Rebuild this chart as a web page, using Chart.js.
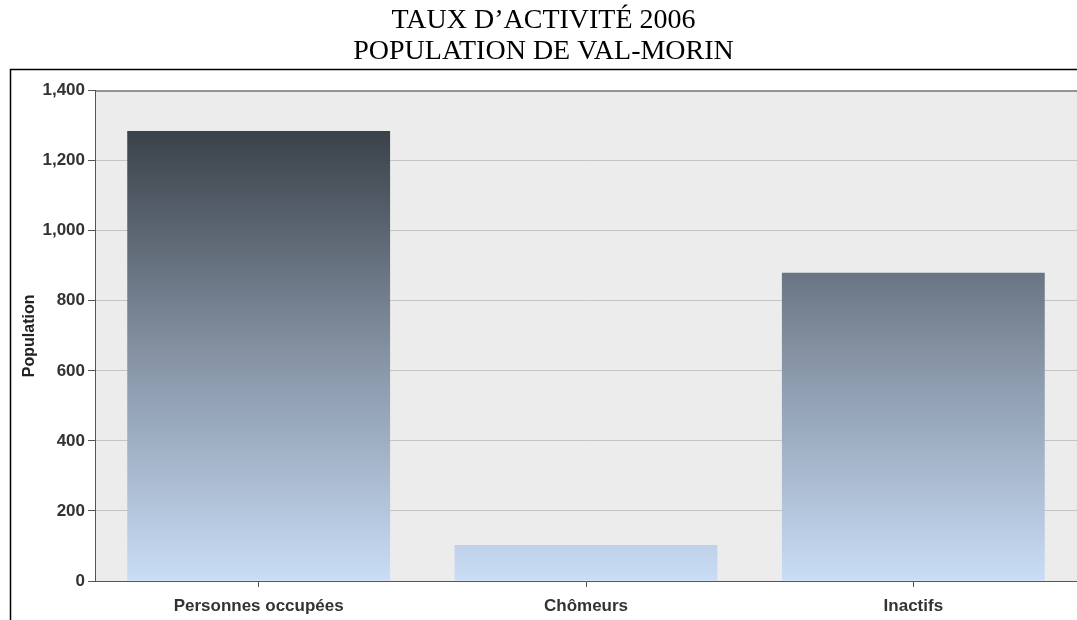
<!DOCTYPE html>
<html>
<head>
<meta charset="utf-8">
<script src="https://cdn.jsdelivr.net/npm/chart.js@4.4.1/dist/chart.umd.min.js"></script>
<style>
  html, body { margin: 0; padding: 0; background: #ffffff; }
  #zone { width: 1077px; height: 620px; }
</style>
</head>
<body>
<div id="zone"><canvas id="graphique"></canvas></div>
<script>
// Données
const categories = ['Personnes occupées', 'Chômeurs', 'Inactifs'];
const population = [1285, 103, 880];
const titreLignes = ['TAUX D\u2019ACTIVITÉ 2006', 'POPULATION DE VAL-MORIN'];
const ticksY = { min: 0, max: 1400, pas: 200 };

// Cadre noir et fond gris de la zone du graphique
const cadrePlugin = {
    id: 'cadre',
    beforeDraw(chart) {
        const ctx = chart.ctx;
        const a = chart.chartArea;
        ctx.save();
        ctx.fillStyle = '#ececec';
        ctx.fillRect(a.left, a.top, a.right - a.left, a.bottom - a.top);
        ctx.strokeStyle = '#000000';
        ctx.lineWidth = 1.5;
        ctx.beginPath();
        ctx.moveTo(10.5, chart.height);
        ctx.lineTo(10.5, 69.5);
        ctx.lineTo(chart.width, 69.5);
        ctx.stroke();
        ctx.restore();
    },
    afterDraw(chart) {
        const ctx = chart.ctx;
        const a = chart.chartArea;
        ctx.save();
        ctx.strokeStyle = '#555555';
        ctx.lineWidth = 1;
        ctx.beginPath();
        ctx.moveTo(a.left, a.top + 0.5);
        ctx.lineTo(a.right, a.top + 0.5);
        ctx.stroke();
        ctx.restore();
    }
};

function degrade(context) {
    const chart = context.chart;
    const a = chart.chartArea;
    if (!a) return '#8795a6';
    const y = chart.scales.y;
    const haut = y.getPixelForValue(Math.max(...population));
    const bas = y.getPixelForValue(0);
    const g = chart.ctx.createLinearGradient(0, haut, 0, bas);
    g.addColorStop(0, '#3a4149');
    g.addColorStop(0.5, '#8593a4');
    g.addColorStop(1, '#c9ddf6');
    return g;
}

const ctx = document.getElementById('graphique').getContext('2d');
const graphique = new Chart(ctx, {
    type: 'bar',
    data: {
        labels: categories,
        datasets: [{
            label: 'Population',
            data: population,
            backgroundColor: degrade,
            borderWidth: 0,
            barPercentage: 0.803,
            categoryPercentage: 1.0
        }]
    },
    options: {
        responsive: true,
        maintainAspectRatio: false,
        animation: false,
        locale: 'en-US',
        layout: { padding: { left: 10, right: 0, top: 0, bottom: 0 } },
        plugins: {
            legend: { display: false },
            tooltip: { enabled: false },
            title: {
                display: true,
                text: titreLignes,
                color: '#000000',
                font: { family: 'Liberation Serif', size: 28, weight: 'normal', lineHeight: 1.1 },
                padding: { top: 5, bottom: 24 }
            }
        },
        scales: {
            x: {
                grid: { drawOnChartArea: false, offset: false, tickLength: 6, tickColor: '#555555' },
                border: { color: '#555555', width: 1 },
                ticks: {
                    color: '#333333',
                    padding: 9,
                    font: { family: 'Liberation Sans', size: 17, weight: 'bold' }
                },
                afterFit(axis) { axis.height = 39; }
            },
            y: {
                min: ticksY.min,
                max: ticksY.max,
                grid: { color: '#c4c4c4', tickColor: '#555555', tickLength: 7 },
                border: { color: '#555555', width: 1 },
                ticks: {
                    stepSize: ticksY.pas,
                    color: '#333333',
                    padding: 3,
                    font: { family: 'Liberation Sans', size: 17, weight: 'bold' }
                },
                title: {
                    display: true,
                    text: 'Population',
                    color: '#222222',
                    padding: { top: 10, bottom: 8 },
                    font: { family: 'Liberation Sans', size: 16, weight: 'bold' }
                },
                afterFit(axis) { axis.width = 85; }
            }
        }
    },
    plugins: [cadrePlugin]
});
</script>
</body>
</html>
